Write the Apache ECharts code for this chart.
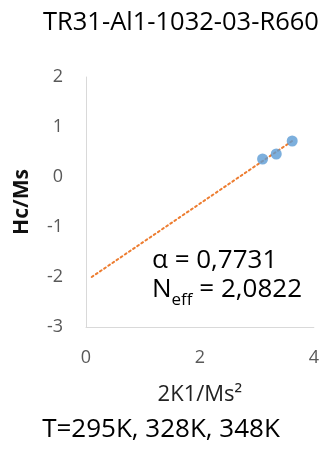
<!DOCTYPE html>
<html>
<head>
<meta charset="utf-8">
<script src="https://cdn.jsdelivr.net/npm/echarts@6/dist/echarts.min.js"></script>
<style>html,body{margin:0;padding:0;background:#fff;}#c{width:322px;height:455px;}</style>
</head>
<body>
<div id="c"></div>
<script>
var pointsX = [3.10, 3.34, 3.62];
var pointsY = [0.36, 0.46, 0.72];
var trendX = [0.1, 3.62];
var trendY = [-2.0, 0.72];
var xTicks = [0, 2, 4];
var yTicks = [-3, -2, -1, 0, 1, 2];
var titleText = 'TR31-Al1-1032-03-R660';
var footerText = 'T=295K, 328K, 348K';
var alphaText = 'α = 0,7731';
var neffValue = ' = 2,0822';

var chart = echarts.init(document.getElementById('c'), null, {renderer: 'canvas'});
var F = '"Open Sans", sans-serif';
var scatterData = pointsX.map(function (x, i) { return [x, pointsY[i]]; });
var trendData = trendX.map(function (x, i) { return [x, trendY[i]]; });

chart.setOption({
  animation: false,
  backgroundColor: '#fff',
  title: {
    text: titleText,
    left: 38, top: 5,
    textStyle: {fontFamily: F, fontSize: 25.5, fontWeight: 'normal', color: '#000'}
  },
  grid: {left: 86, top: 77, right: 6, bottom: 128},
  xAxis: {
    type: 'value', min: xTicks[0], max: xTicks[xTicks.length - 1], interval: 2,
    name: '2K1/Ms²', nameLocation: 'middle', nameGap: 57,
    nameTextStyle: {fontFamily: F, fontSize: 22, color: '#222'},
    axisLine: {show: true, onZero: false, lineStyle: {color: '#d9d9d9', width: 1}},
    axisTick: {show: false},
    splitLine: {show: false},
    axisLabel: {fontFamily: F, fontSize: 18, color: '#595959', margin: 22}
  },
  yAxis: {
    type: 'value', min: yTicks[0], max: yTicks[yTicks.length - 1], interval: 1,
    name: 'Hc/Ms', nameLocation: 'middle', nameGap: 53,
    nameTextStyle: {fontFamily: F, fontSize: 21, fontWeight: 'bold', color: '#111'},
    axisLine: {show: true, lineStyle: {color: '#d9d9d9', width: 1}},
    axisTick: {show: false},
    splitLine: {show: false},
    axisLabel: {fontFamily: F, fontSize: 18, color: '#595959', margin: 23}
  },
  series: [
    {
      type: 'line', data: trendData, symbol: 'none', silent: true,
      lineStyle: {color: '#ED7D31', width: 2, type: [2, 3], cap: 'round'},
      z: 1
    },
    {
      type: 'scatter', data: scatterData, symbol: 'circle', symbolSize: 11,
      itemStyle: {color: '#5B9BD5'}, z: 2
    }
  ],
  graphic: [
    {
      type: 'text', left: 152, top: 248,
      style: {text: alphaText, fontFamily: F, fontSize: 26, fill: '#000'}
    },
    {
      type: 'text', left: 152, top: 277,
      style: {
        text: '{n|N}{s|eff}{n|' + neffValue + '}',
        rich: {
          n: {fontFamily: F, fontSize: 26, fill: '#000', lineHeight: 34, verticalAlign: 'bottom'},
          s: {fontFamily: F, fontSize: 17, fill: '#000', lineHeight: 34, verticalAlign: 'bottom', padding: [0, 0, -6, 0]}
        }
      }
    },
    {
      type: 'text', left: 'center', top: 417,
      style: {text: footerText, fontFamily: F, fontSize: 26, fill: '#000'}
    }
  ]
});
</script>
</body>
</html>
